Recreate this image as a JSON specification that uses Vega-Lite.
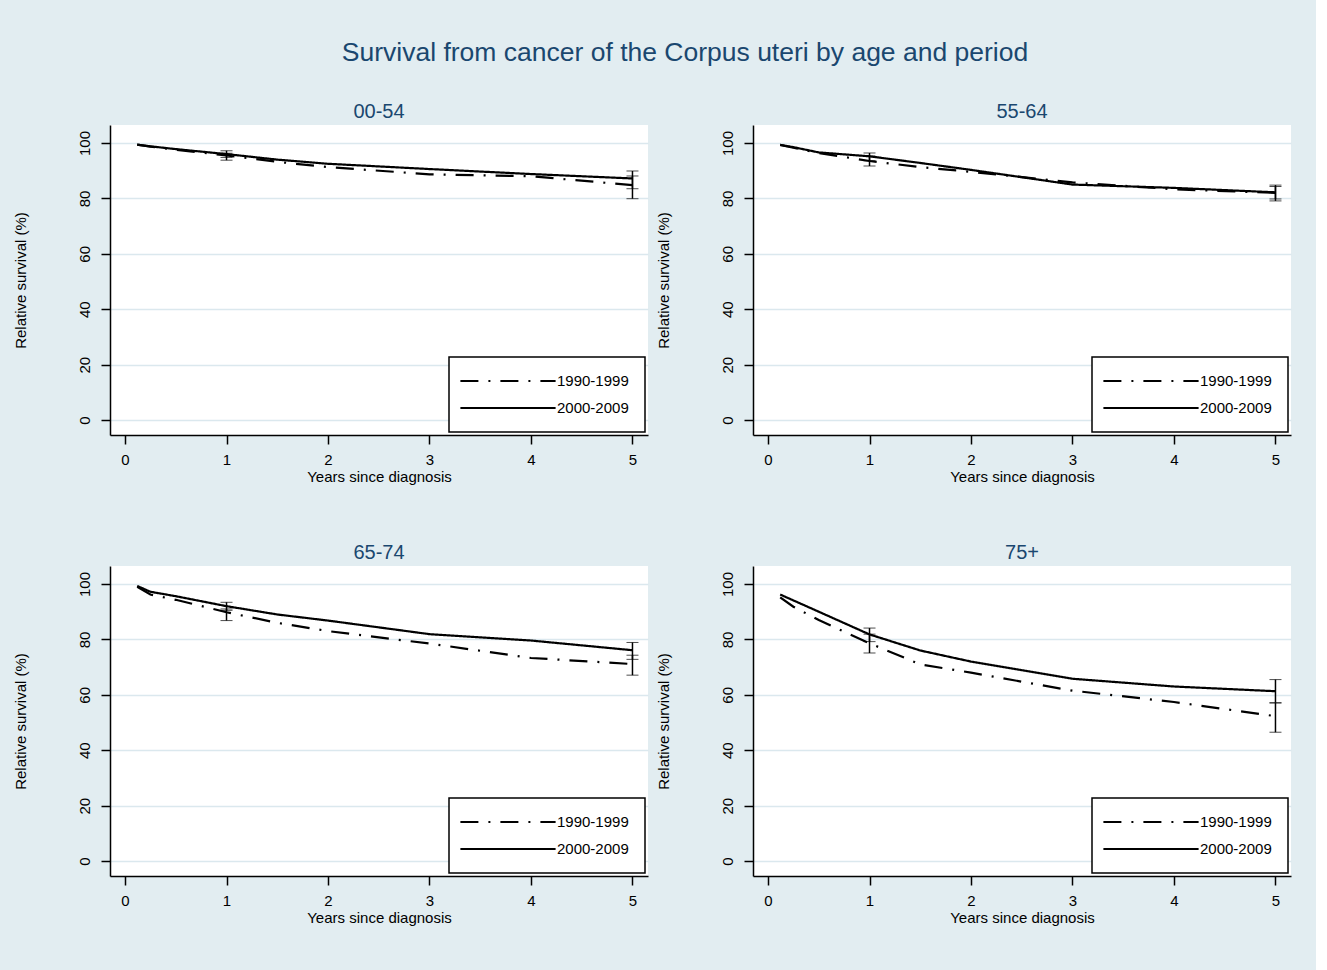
{
  "$schema": "https://vega.github.io/schema/vega-lite/v6.json",
  "background": "#e2edf1",
  "padding": {"left": 12, "top": 39, "right": 25, "bottom": 45},
  "bounds": "flush",
  "config": {
    "font": "Liberation Sans",
    "view": {"fill": "white", "stroke": null},
    "axis": {
      "domainColor": "black", "domainWidth": 1.5, "tickColor": "black", "tickWidth": 1.5, "tickSize": 9,
      "labelColor": "black", "labelFontSize": 15, "titleColor": "black", "titleFontSize": 15, "titleFontWeight": "normal",
      "gridColor": "#dbe8ee", "gridWidth": 1.5
    },
    "legend": {
      "orient": "bottom-right", "offset": 3, "fillColor": "white", "strokeColor": "black", "strokeWidth": 1.5,
      "padding": 16, "symbolType": "M-6.8,0H6.8", "symbolSize": 196, "symbolStrokeWidth": 2, "symbolStrokeColor": "black",
      "symbolFillColor": "transparent", "symbolOffset": 35,
      "labelFontSize": 15, "labelColor": "black", "labelOffset": 41, "rowPadding": 11, "title": null
    },
    "title": {"color": "#1a476f", "fontWeight": "normal"}
  },
  "title": {"text": "Survival from cancer of the Corpus uteri by age and period", "fontSize": 26.5, "anchor": "middle", "baseline": "bottom", "offset": 9, "dx": 33},
  "columns": 2,
  "spacing": {"row": 131, "column": 105},
  "resolve": {"legend": {"strokeDash": "independent"}, "scale": {"strokeDash": "independent"}},
  "datasets": {
    "lines": [
      {"age": "00-54", "period": "1990-1999", "t": 0.12, "rs": 99.4},
      {"age": "00-54", "period": "1990-1999", "t": 0.25, "rs": 98.7},
      {"age": "00-54", "period": "1990-1999", "t": 0.5, "rs": 97.6},
      {"age": "00-54", "period": "1990-1999", "t": 1, "rs": 95.5},
      {"age": "00-54", "period": "1990-1999", "t": 1.5, "rs": 93.2},
      {"age": "00-54", "period": "1990-1999", "t": 2, "rs": 91.3},
      {"age": "00-54", "period": "1990-1999", "t": 3, "rs": 88.7},
      {"age": "00-54", "period": "1990-1999", "t": 4, "rs": 88.0},
      {"age": "00-54", "period": "1990-1999", "t": 5, "rs": 84.8},
      {"age": "00-54", "period": "2000-2009", "t": 0.12, "rs": 99.4},
      {"age": "00-54", "period": "2000-2009", "t": 0.25, "rs": 98.8},
      {"age": "00-54", "period": "2000-2009", "t": 0.5, "rs": 97.8},
      {"age": "00-54", "period": "2000-2009", "t": 1, "rs": 96.0},
      {"age": "00-54", "period": "2000-2009", "t": 1.5, "rs": 94.0},
      {"age": "00-54", "period": "2000-2009", "t": 2, "rs": 92.5},
      {"age": "00-54", "period": "2000-2009", "t": 3, "rs": 90.6},
      {"age": "00-54", "period": "2000-2009", "t": 4, "rs": 88.8},
      {"age": "00-54", "period": "2000-2009", "t": 5, "rs": 87.2},
      {"age": "55-64", "period": "1990-1999", "t": 0.12, "rs": 99.3},
      {"age": "55-64", "period": "1990-1999", "t": 0.25, "rs": 98.3},
      {"age": "55-64", "period": "1990-1999", "t": 0.5, "rs": 96.4},
      {"age": "55-64", "period": "1990-1999", "t": 1, "rs": 93.5},
      {"age": "55-64", "period": "1990-1999", "t": 1.5, "rs": 91.3},
      {"age": "55-64", "period": "1990-1999", "t": 2, "rs": 89.6},
      {"age": "55-64", "period": "1990-1999", "t": 3, "rs": 85.8},
      {"age": "55-64", "period": "1990-1999", "t": 4, "rs": 83.3},
      {"age": "55-64", "period": "1990-1999", "t": 5, "rs": 82.0},
      {"age": "55-64", "period": "2000-2009", "t": 0.12, "rs": 99.3},
      {"age": "55-64", "period": "2000-2009", "t": 0.25, "rs": 98.5},
      {"age": "55-64", "period": "2000-2009", "t": 0.5, "rs": 96.6},
      {"age": "55-64", "period": "2000-2009", "t": 1, "rs": 95.2},
      {"age": "55-64", "period": "2000-2009", "t": 1.5, "rs": 92.8},
      {"age": "55-64", "period": "2000-2009", "t": 2, "rs": 90.3},
      {"age": "55-64", "period": "2000-2009", "t": 3, "rs": 85.0},
      {"age": "55-64", "period": "2000-2009", "t": 4, "rs": 83.8},
      {"age": "55-64", "period": "2000-2009", "t": 5, "rs": 82.2},
      {"age": "65-74", "period": "1990-1999", "t": 0.12, "rs": 99.0},
      {"age": "65-74", "period": "1990-1999", "t": 0.25, "rs": 96.2},
      {"age": "65-74", "period": "1990-1999", "t": 0.5, "rs": 94.3},
      {"age": "65-74", "period": "1990-1999", "t": 1, "rs": 89.8},
      {"age": "65-74", "period": "1990-1999", "t": 1.5, "rs": 86.0},
      {"age": "65-74", "period": "1990-1999", "t": 2, "rs": 83.0},
      {"age": "65-74", "period": "1990-1999", "t": 3, "rs": 78.5},
      {"age": "65-74", "period": "1990-1999", "t": 4, "rs": 73.3},
      {"age": "65-74", "period": "1990-1999", "t": 5, "rs": 71.1},
      {"age": "65-74", "period": "2000-2009", "t": 0.12, "rs": 99.3},
      {"age": "65-74", "period": "2000-2009", "t": 0.25, "rs": 97.2},
      {"age": "65-74", "period": "2000-2009", "t": 0.5, "rs": 95.6},
      {"age": "65-74", "period": "2000-2009", "t": 1, "rs": 92.0},
      {"age": "65-74", "period": "2000-2009", "t": 1.5, "rs": 89.0},
      {"age": "65-74", "period": "2000-2009", "t": 2, "rs": 86.8},
      {"age": "65-74", "period": "2000-2009", "t": 3, "rs": 81.9},
      {"age": "65-74", "period": "2000-2009", "t": 4, "rs": 79.6},
      {"age": "65-74", "period": "2000-2009", "t": 5, "rs": 76.1},
      {"age": "75+", "period": "1990-1999", "t": 0.12, "rs": 95.2},
      {"age": "75+", "period": "1990-1999", "t": 0.25, "rs": 91.8},
      {"age": "75+", "period": "1990-1999", "t": 0.5, "rs": 87.0},
      {"age": "75+", "period": "1990-1999", "t": 1, "rs": 78.6},
      {"age": "75+", "period": "1990-1999", "t": 1.5, "rs": 71.0},
      {"age": "75+", "period": "1990-1999", "t": 2, "rs": 68.0},
      {"age": "75+", "period": "1990-1999", "t": 3, "rs": 61.5},
      {"age": "75+", "period": "1990-1999", "t": 4, "rs": 57.4},
      {"age": "75+", "period": "1990-1999", "t": 5, "rs": 52.3},
      {"age": "75+", "period": "2000-2009", "t": 0.12, "rs": 96.2},
      {"age": "75+", "period": "2000-2009", "t": 0.5, "rs": 90.0},
      {"age": "75+", "period": "2000-2009", "t": 1, "rs": 81.8},
      {"age": "75+", "period": "2000-2009", "t": 1.5, "rs": 76.0},
      {"age": "75+", "period": "2000-2009", "t": 2, "rs": 72.0},
      {"age": "75+", "period": "2000-2009", "t": 3, "rs": 65.8},
      {"age": "75+", "period": "2000-2009", "t": 4, "rs": 63.0},
      {"age": "75+", "period": "2000-2009", "t": 5, "rs": 61.3}
    ],
    "ci": [
      {"age": "00-54", "period": "1990-1999", "t": 1, "lo": 93.8, "hi": 96.3},
      {"age": "00-54", "period": "2000-2009", "t": 1, "lo": 94.8, "hi": 97.2},
      {"age": "00-54", "period": "1990-1999", "t": 5, "lo": 79.9, "hi": 88.1},
      {"age": "00-54", "period": "2000-2009", "t": 5, "lo": 83.5, "hi": 89.9},
      {"age": "55-64", "period": "1990-1999", "t": 1, "lo": 91.7, "hi": 95.3},
      {"age": "55-64", "period": "2000-2009", "t": 1, "lo": 93.6, "hi": 96.4},
      {"age": "55-64", "period": "1990-1999", "t": 5, "lo": 79.1, "hi": 84.3},
      {"age": "55-64", "period": "2000-2009", "t": 5, "lo": 79.8, "hi": 84.8},
      {"age": "65-74", "period": "1990-1999", "t": 1, "lo": 86.8, "hi": 91.0},
      {"age": "65-74", "period": "2000-2009", "t": 1, "lo": 90.5, "hi": 93.4},
      {"age": "65-74", "period": "1990-1999", "t": 5, "lo": 67.1, "hi": 74.3},
      {"age": "65-74", "period": "2000-2009", "t": 5, "lo": 72.8, "hi": 78.9},
      {"age": "75+", "period": "1990-1999", "t": 1, "lo": 75.1, "hi": 81.9},
      {"age": "75+", "period": "2000-2009", "t": 1, "lo": 79.2, "hi": 84.1},
      {"age": "75+", "period": "1990-1999", "t": 5, "lo": 46.5, "hi": 57.1},
      {"age": "75+", "period": "2000-2009", "t": 5, "lo": 57.1, "hi": 65.5}
    ]
  },
  "concat": [
    {
      "width": 538, "height": 310,
      "title": {"text": "00-54", "fontSize": 20, "anchor": "middle", "frame": "group", "baseline": "bottom", "offset": -17},
      "layer": [
        {"data": {"name": "lines"}, "transform": [{"filter": "datum.age == '00-54'"}],
         "mark": {"type": "line", "color": "black", "strokeWidth": 2.2},
         "encoding": {
           "x": {"field": "t", "type": "quantitative", "title": "Years since diagnosis", "scale": {"domain": [-0.148, 5.153], "nice": false, "zero": false}, "axis": {"values": [0, 1, 2, 3, 4, 5], "format": "d", "grid": false, "labelPadding": 8, "titlePadding": 2}},
           "y": {"field": "rs", "type": "quantitative", "title": "Relative survival (%)", "scale": {"domain": [-5.4, 106.5], "nice": false, "zero": false}, "axis": {"values": [0, 20, 40, 60, 80, 100], "grid": true, "labelAngle": -90, "labelAlign": "center", "labelBaseline": "bottom", "labelPadding": 9, "titlePadding": 49}},
           "strokeDash": {"field": "period", "type": "nominal", "scale": {"domain": ["1990-1999", "2000-2009"], "range": [[18, 10, 2, 10], [1, 0]]}}
         }},
        {"data": {"name": "ci"}, "transform": [{"filter": "datum.age == '00-54'"}],
         "mark": {"type": "errorbar", "color": "black", "ticks": {"size": 12, "color": "black", "strokeWidth": 1.5}, "rule": {"color": "black", "strokeWidth": 1.5}},
         "encoding": {"x": {"field": "t", "type": "quantitative", "title": "Years since diagnosis"}, "y": {"field": "lo", "type": "quantitative", "title": "Relative survival (%)"}, "y2": {"field": "hi"}}}
      ]
    },
    {
      "width": 538, "height": 310,
      "title": {"text": "55-64", "fontSize": 20, "anchor": "middle", "frame": "group", "baseline": "bottom", "offset": -17},
      "layer": [
        {"data": {"name": "lines"}, "transform": [{"filter": "datum.age == '55-64'"}],
         "mark": {"type": "line", "color": "black", "strokeWidth": 2.2},
         "encoding": {
           "x": {"field": "t", "type": "quantitative", "title": "Years since diagnosis", "scale": {"domain": [-0.148, 5.153], "nice": false, "zero": false}, "axis": {"values": [0, 1, 2, 3, 4, 5], "format": "d", "grid": false, "labelPadding": 8, "titlePadding": 2}},
           "y": {"field": "rs", "type": "quantitative", "title": "Relative survival (%)", "scale": {"domain": [-5.4, 106.5], "nice": false, "zero": false}, "axis": {"values": [0, 20, 40, 60, 80, 100], "grid": true, "labelAngle": -90, "labelAlign": "center", "labelBaseline": "bottom", "labelPadding": 9, "titlePadding": 49}},
           "strokeDash": {"field": "period", "type": "nominal", "scale": {"domain": ["1990-1999", "2000-2009"], "range": [[18, 10, 2, 10], [1, 0]]}}
         }},
        {"data": {"name": "ci"}, "transform": [{"filter": "datum.age == '55-64'"}],
         "mark": {"type": "errorbar", "color": "black", "ticks": {"size": 12, "color": "black", "strokeWidth": 1.5}, "rule": {"color": "black", "strokeWidth": 1.5}},
         "encoding": {"x": {"field": "t", "type": "quantitative", "title": "Years since diagnosis"}, "y": {"field": "lo", "type": "quantitative", "title": "Relative survival (%)"}, "y2": {"field": "hi"}}}
      ]
    },
    {
      "width": 538, "height": 310,
      "title": {"text": "65-74", "fontSize": 20, "anchor": "middle", "frame": "group", "baseline": "bottom", "offset": -17},
      "layer": [
        {"data": {"name": "lines"}, "transform": [{"filter": "datum.age == '65-74'"}],
         "mark": {"type": "line", "color": "black", "strokeWidth": 2.2},
         "encoding": {
           "x": {"field": "t", "type": "quantitative", "title": "Years since diagnosis", "scale": {"domain": [-0.148, 5.153], "nice": false, "zero": false}, "axis": {"values": [0, 1, 2, 3, 4, 5], "format": "d", "grid": false, "labelPadding": 8, "titlePadding": 2}},
           "y": {"field": "rs", "type": "quantitative", "title": "Relative survival (%)", "scale": {"domain": [-5.4, 106.5], "nice": false, "zero": false}, "axis": {"values": [0, 20, 40, 60, 80, 100], "grid": true, "labelAngle": -90, "labelAlign": "center", "labelBaseline": "bottom", "labelPadding": 9, "titlePadding": 49}},
           "strokeDash": {"field": "period", "type": "nominal", "scale": {"domain": ["1990-1999", "2000-2009"], "range": [[18, 10, 2, 10], [1, 0]]}}
         }},
        {"data": {"name": "ci"}, "transform": [{"filter": "datum.age == '65-74'"}],
         "mark": {"type": "errorbar", "color": "black", "ticks": {"size": 12, "color": "black", "strokeWidth": 1.5}, "rule": {"color": "black", "strokeWidth": 1.5}},
         "encoding": {"x": {"field": "t", "type": "quantitative", "title": "Years since diagnosis"}, "y": {"field": "lo", "type": "quantitative", "title": "Relative survival (%)"}, "y2": {"field": "hi"}}}
      ]
    },
    {
      "width": 538, "height": 310,
      "title": {"text": "75+", "fontSize": 20, "anchor": "middle", "frame": "group", "baseline": "bottom", "offset": -17},
      "layer": [
        {"data": {"name": "lines"}, "transform": [{"filter": "datum.age == '75+'"}],
         "mark": {"type": "line", "color": "black", "strokeWidth": 2.2},
         "encoding": {
           "x": {"field": "t", "type": "quantitative", "title": "Years since diagnosis", "scale": {"domain": [-0.148, 5.153], "nice": false, "zero": false}, "axis": {"values": [0, 1, 2, 3, 4, 5], "format": "d", "grid": false, "labelPadding": 8, "titlePadding": 2}},
           "y": {"field": "rs", "type": "quantitative", "title": "Relative survival (%)", "scale": {"domain": [-5.4, 106.5], "nice": false, "zero": false}, "axis": {"values": [0, 20, 40, 60, 80, 100], "grid": true, "labelAngle": -90, "labelAlign": "center", "labelBaseline": "bottom", "labelPadding": 9, "titlePadding": 49}},
           "strokeDash": {"field": "period", "type": "nominal", "scale": {"domain": ["1990-1999", "2000-2009"], "range": [[18, 10, 2, 10], [1, 0]]}}
         }},
        {"data": {"name": "ci"}, "transform": [{"filter": "datum.age == '75+'"}],
         "mark": {"type": "errorbar", "color": "black", "ticks": {"size": 12, "color": "black", "strokeWidth": 1.5}, "rule": {"color": "black", "strokeWidth": 1.5}},
         "encoding": {"x": {"field": "t", "type": "quantitative", "title": "Years since diagnosis"}, "y": {"field": "lo", "type": "quantitative", "title": "Relative survival (%)"}, "y2": {"field": "hi"}}}
      ]
    }
  ]
}
